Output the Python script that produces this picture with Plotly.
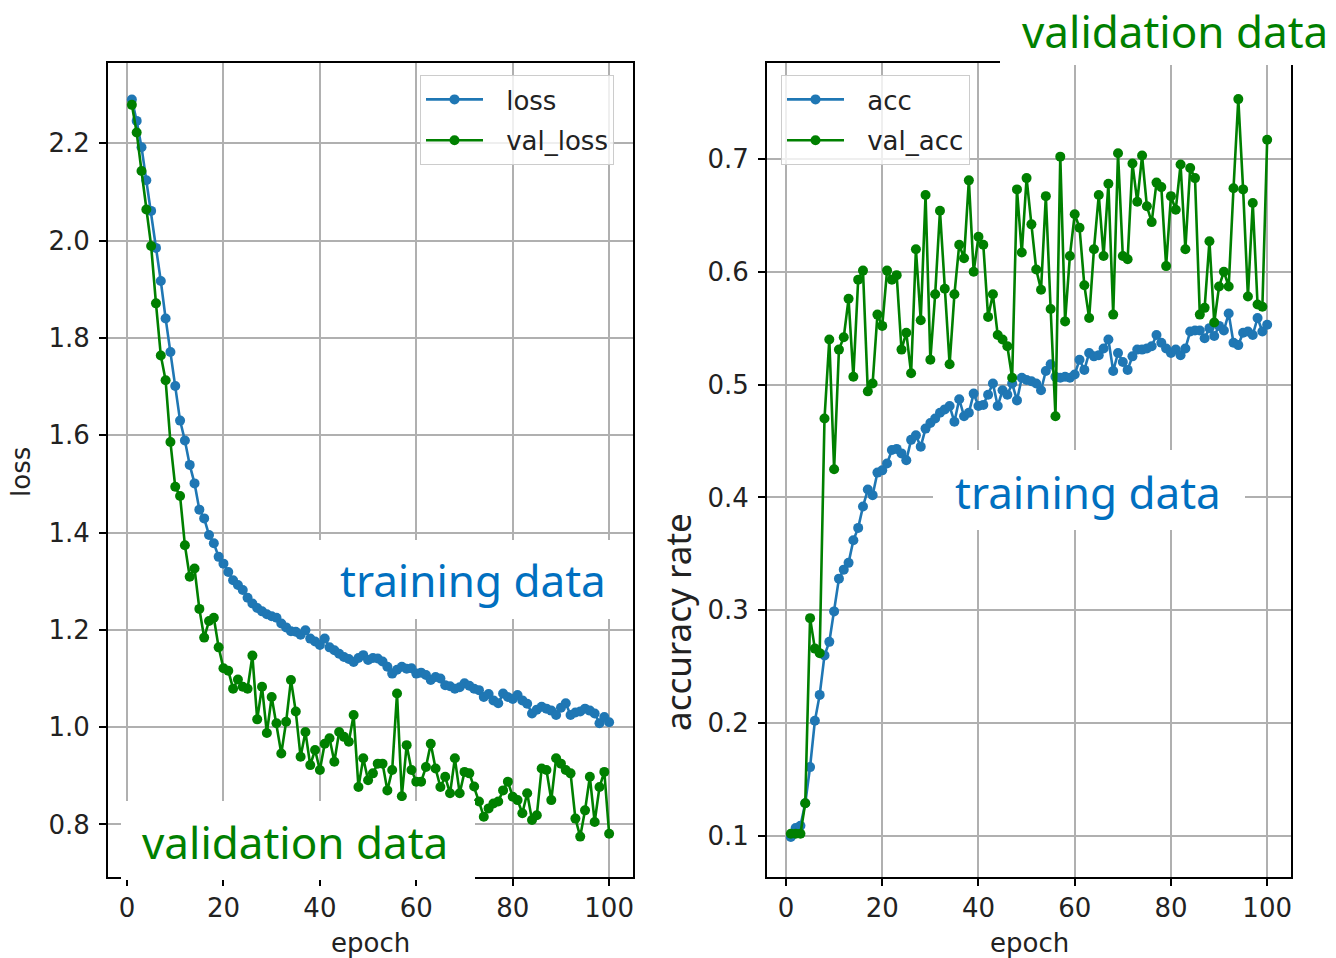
import plotly.graph_objects as go

W, H = 1336, 958

epochs = list(range(1, 101))

loss = [
    2.290, 2.246, 2.192, 2.124, 2.061, 1.985, 1.917, 1.840, 1.771, 1.701,
    1.630, 1.589, 1.539, 1.501, 1.447, 1.429, 1.395, 1.378, 1.350, 1.336,
    1.319, 1.302, 1.292, 1.282, 1.266, 1.254, 1.245, 1.238, 1.232, 1.228,
    1.225, 1.213, 1.205, 1.197, 1.196, 1.190, 1.199, 1.182, 1.176, 1.169,
    1.182, 1.164, 1.158, 1.151, 1.144, 1.140, 1.134, 1.142, 1.148, 1.138,
    1.142, 1.141, 1.135, 1.124, 1.110, 1.118, 1.124, 1.120, 1.121, 1.110,
    1.112, 1.107, 1.097, 1.103, 1.100, 1.086, 1.084, 1.079, 1.082, 1.090,
    1.085, 1.079, 1.076, 1.062, 1.068, 1.055, 1.049, 1.069, 1.062, 1.058,
    1.066, 1.055, 1.048, 1.028, 1.036, 1.042, 1.038, 1.034, 1.025, 1.040,
    1.049, 1.025, 1.030, 1.032, 1.038, 1.034, 1.028, 1.008, 1.021, 1.010,
]

val_loss = [
    2.279, 2.222, 2.143, 2.064, 1.989, 1.871, 1.764, 1.713, 1.586, 1.494,
    1.475, 1.374, 1.309, 1.326, 1.243, 1.184, 1.218, 1.225, 1.164, 1.121,
    1.116, 1.079, 1.098, 1.083, 1.079, 1.147, 1.016, 1.083, 0.988, 1.062,
    1.008, 0.946, 1.011, 1.097, 1.032, 0.939, 0.990, 0.922, 0.953, 0.912,
    0.966, 0.977, 0.929, 0.990, 0.980, 0.970, 1.025, 0.877, 0.936, 0.891,
    0.905, 0.925, 0.925, 0.870, 0.912, 1.069, 0.858, 0.963, 0.912, 0.888,
    0.888, 0.918, 0.966, 0.915, 0.877, 0.898, 0.864, 0.936, 0.864, 0.908,
    0.905, 0.878, 0.847, 0.816, 0.833, 0.843, 0.847, 0.870, 0.888, 0.857,
    0.850, 0.823, 0.864, 0.809, 0.819, 0.915, 0.912, 0.850, 0.936, 0.925,
    0.912, 0.905, 0.812, 0.775, 0.829, 0.898, 0.805, 0.877, 0.908, 0.781,
]

acc = [
    0.099, 0.107, 0.109, 0.129, 0.161, 0.202, 0.225, 0.260, 0.272, 0.299,
    0.328, 0.336, 0.342, 0.362, 0.373, 0.392, 0.407, 0.402, 0.422, 0.424,
    0.430, 0.442, 0.443, 0.439, 0.433, 0.451, 0.455, 0.445, 0.461, 0.466,
    0.470, 0.475, 0.478, 0.481, 0.467, 0.487, 0.472, 0.475, 0.492, 0.481,
    0.482, 0.491, 0.501, 0.481, 0.495, 0.491, 0.501, 0.486, 0.506, 0.504,
    0.503, 0.501, 0.495, 0.512, 0.518, 0.507, 0.506, 0.507, 0.506, 0.509,
    0.522, 0.513, 0.528, 0.525, 0.526, 0.532, 0.540, 0.512, 0.528, 0.520,
    0.513, 0.525, 0.531, 0.531, 0.532, 0.534, 0.544, 0.537, 0.532, 0.528,
    0.531, 0.526, 0.532, 0.547, 0.548, 0.548, 0.541, 0.550, 0.543, 0.552,
    0.548, 0.563, 0.537, 0.535, 0.546, 0.547, 0.544, 0.559, 0.547, 0.553,
]

val_acc = [
    0.102, 0.102, 0.102, 0.129, 0.293, 0.266, 0.262, 0.470, 0.540, 0.425,
    0.531, 0.542, 0.576, 0.507, 0.593, 0.601, 0.494, 0.501, 0.562, 0.552,
    0.601, 0.593, 0.597, 0.531, 0.546, 0.510, 0.620, 0.557, 0.668, 0.522,
    0.580, 0.654, 0.585, 0.518, 0.580, 0.624, 0.612, 0.681, 0.600, 0.631,
    0.624, 0.560, 0.580, 0.544, 0.540, 0.534, 0.506, 0.673, 0.617, 0.683,
    0.642, 0.602, 0.584, 0.667, 0.567, 0.472, 0.702, 0.556, 0.614, 0.651,
    0.639, 0.588, 0.559, 0.620, 0.668, 0.614, 0.678, 0.562, 0.705, 0.614,
    0.611, 0.696, 0.662, 0.703, 0.658, 0.644, 0.679, 0.675, 0.605, 0.667,
    0.655, 0.695, 0.620, 0.692, 0.683, 0.562, 0.568, 0.627, 0.555, 0.587,
    0.600, 0.587, 0.674, 0.753, 0.673, 0.578, 0.661, 0.571, 0.569, 0.717,
]

x_ticks = [0, 20, 40, 60, 80, 100]
loss_ticks = [0.8, 1.0, 1.2, 1.4, 1.6, 1.8, 2.0, 2.2]
acc_ticks = [0.1, 0.2, 0.3, 0.4, 0.5, 0.6, 0.7]

BLUE = "#1f77b4"
GREEN = "#008000"
TEXT_BLUE = "#0070c0"
AX_FONT = dict(family="DejaVu Sans", size=26, color="#222222")
NOTE_FONT = "Noto Sans"
# en space + thin space: opens the gap between legend sample and label
PAD = "\u2002\u2009"


def px(x):
    return x / W


def py(y):
    return 1 - y / H


fig = go.Figure()

series = [
    (loss, "loss", BLUE, "x", "y", "legend"),
    (val_loss, "val_loss", GREEN, "x", "y", "legend"),
    (acc, "acc", BLUE, "x2", "y2", "legend2"),
    (val_acc, "val_acc", GREEN, "x2", "y2", "legend2"),
]
for vals, name, color, xa, ya, lg in series:
    fig.add_trace(go.Scatter(
        x=epochs, y=vals, name=PAD + name, mode="lines+markers",
        line=dict(color=color, width=2.6),
        marker=dict(color=color, size=10),
        xaxis=xa, yaxis=ya, legend=lg, legendgroup=name,
    ))

axis_common = dict(
    showline=True, mirror=True, linecolor="black", linewidth=1.8,
    ticks="outside", ticklen=7, tickwidth=1.8, tickcolor="black",
    showgrid=True, gridcolor="#b0b0b0", gridwidth=1.5,
    zeroline=False, tickfont=AX_FONT,
)

legend_common = dict(
    xanchor="left", yanchor="top",
    bgcolor="rgba(255,255,255,0.8)", bordercolor="#cccccc",
    borderwidth=1, font=AX_FONT, tracegroupgap=4, itemwidth=57,
)

fig.update_layout(
    width=W, height=H,
    margin=dict(l=0, r=0, t=0, b=0),
    paper_bgcolor="white", plot_bgcolor="white",
    xaxis=dict(domain=[px(108), px(633)], range=[-3.95, 104.95],
               tickvals=x_ticks, anchor="y", ticklabelstandoff=0, **axis_common),
    yaxis=dict(domain=[py(877), py(63)], range=[0.692, 2.365],
               tickvals=loss_ticks, tickformat=".1f", anchor="x",
               ticklabelstandoff=4, **axis_common),
    xaxis2=dict(domain=[px(767), px(1291)], range=[-3.95, 104.95],
                tickvals=x_ticks, anchor="y2", ticklabelstandoff=0, **axis_common),
    yaxis2=dict(domain=[py(877), py(63)], range=[0.0636, 0.785],
                tickvals=acc_ticks, tickformat=".1f", anchor="x2",
                ticklabelstandoff=4, **axis_common),
    legend=dict(x=px(420), y=py(75), **legend_common),
    legend2=dict(x=px(781), y=py(75), **legend_common),
)

# white label panels laid over the axes
panels = [
    (318, 540, 632, 619),
    (121, 801, 475, 880),
    (1000, 0, 1336, 65),
    (933, 450, 1245, 530),
]
for x0, y0, x1, y1 in panels:
    fig.add_shape(type="rect", xref="paper", yref="paper",
                  x0=px(x0), x1=px(x1), y0=py(y1), y1=py(y0),
                  fillcolor="white", line=dict(width=0), layer="above")

notes = [
    ("training data", 472.5, 580, TEXT_BLUE, 44, 0),
    ("validation data", 295, 842, GREEN, 44, 0),
    ("validation data", 1175, 31, GREEN, 44, 0),
    ("training data", 1087.5, 492, TEXT_BLUE, 44, 0),
    ("accuracy rate", 677, 622, "#222222", 35, -90),
]
for text, x, y, color, size, ang in notes:
    fig.add_annotation(text=text, xref="paper", yref="paper",
                       x=px(x), y=py(y), xanchor="center", yanchor="middle",
                       showarrow=False, textangle=ang,
                       font=dict(family=NOTE_FONT, size=size, color=color))

# axis titles
for text, x, y, ang in [("epoch", 370.5, 943, 0), ("epoch", 1029, 943, 0),
                        ("loss", 21, 472, -90)]:
    fig.add_annotation(text=text, xref="paper", yref="paper",
                       x=px(x), y=py(y), xanchor="center", yanchor="middle",
                       showarrow=False, textangle=ang, font=AX_FONT)

fig.write_html("out.html")
